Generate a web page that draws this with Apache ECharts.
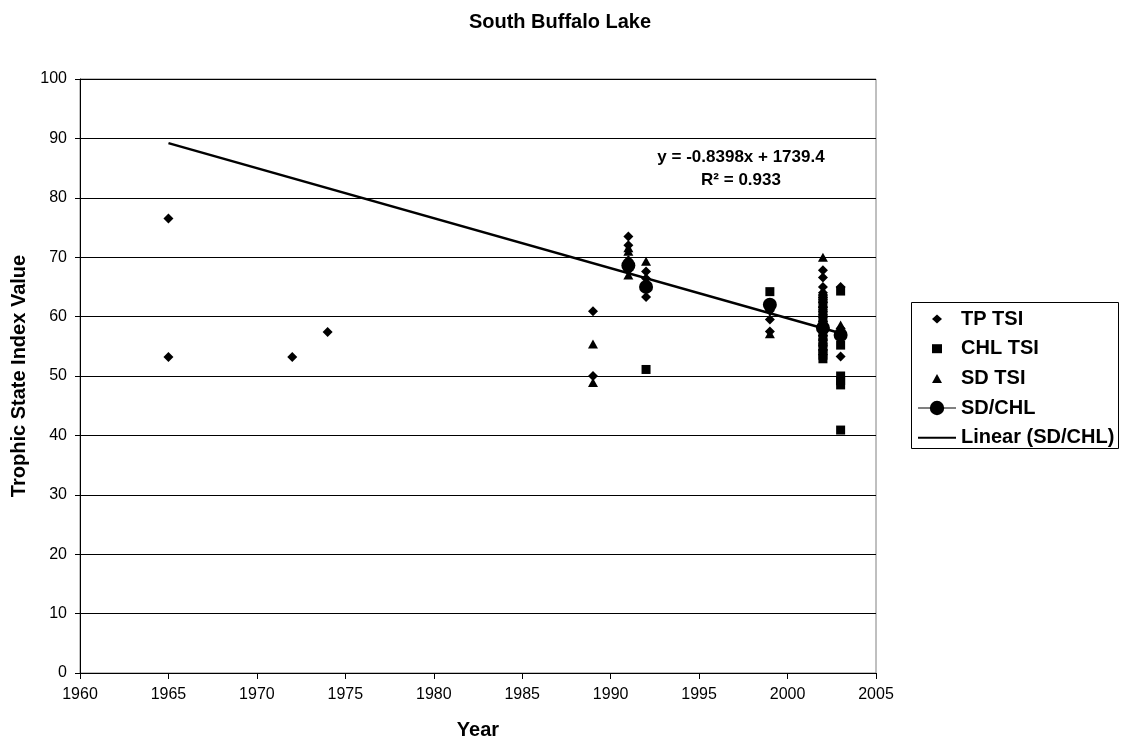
<!DOCTYPE html>
<html>
<head>
<meta charset="utf-8">
<script src="https://cdn.jsdelivr.net/npm/echarts@6/dist/echarts.min.js"></script>
<style>
html,body{margin:0;padding:0;background:#fff;}
#chart{width:1122px;height:740px;}
</style>
</head>
<body>
<div id="chart"></div>
<script>
// ---- data ----
const chartTitle = 'South Buffalo Lake';
const xTicks = [1960, 1965, 1970, 1975, 1980, 1985, 1990, 1995, 2000, 2005];
const yTicks = [0, 10, 20, 30, 40, 50, 60, 70, 80, 90, 100];

const tpTSI = [
  [1965, 76.5], [1965, 53.2], [1972, 53.2], [1974, 57.4],
  [1989, 60.9], [1989, 50.0],
  [1991, 73.5], [1991, 72.0], [1991, 69.5], [1991, 67.8],
  [1992, 67.6], [1992, 66.4], [1992, 63.3],
  [1999, 61.0], [1999, 59.5], [1999, 57.5],
  [2002, 67.8], [2002, 66.6], [2002, 65.0], [2002, 64.0], [2002, 63.2], [2002, 62.4],
  [2002, 61.6], [2002, 60.8], [2002, 60.0], [2002, 59.2], [2002, 58.4], [2002, 57.6],
  [2002, 56.8], [2002, 56.0], [2002, 55.2], [2002, 54.4], [2002, 53.6],
  [2003, 65.0], [2003, 58.0], [2003, 53.3]
];
const chlTSI = [
  [1992, 51.1], [1999, 64.2],
  [2002, 63.0], [2002, 61.8], [2002, 60.5], [2002, 59.3], [2002, 58.0], [2002, 56.8],
  [2002, 55.6], [2002, 54.5], [2002, 53.5], [2002, 52.9],
  [2003, 64.3], [2003, 55.2], [2003, 50.0], [2003, 49.2], [2003, 48.5], [2003, 40.9]
];
const sdTSI = [
  [1989, 55.4], [1989, 48.9],
  [1991, 71.6], [1991, 71.0], [1991, 67.0],
  [1992, 69.3], [1999, 57.1],
  [2002, 70.0], [2002, 64.3], [2002, 63.5], [2002, 62.2], [2002, 61.0], [2002, 59.8],
  [2002, 58.6], [2002, 57.4], [2002, 56.2], [2002, 55.0],
  [2003, 58.6], [2003, 57.8]
];
const sdChl = [[1991, 68.6], [1992, 65.0], [1999, 62.0], [2002, 58.1], [2003, 56.9]];
const trendLine = [[1965, 89.2], [2003, 57.2]];
const equationText = ['y = -0.8398x + 1739.4', 'R² = 0.933'];
const seriesNames = ['TP TSI', 'CHL TSI', 'SD TSI', 'SD/CHL', 'Linear (SD/CHL)'];

const FONT = 'Arial, "Liberation Sans", sans-serif';
const chart = echarts.init(document.getElementById('chart'), null, {renderer: 'canvas'});

const legendText = {fontFamily: FONT, fontWeight: 'bold', fontSize: 20, color: '#000', lineHeight: 20};

const option = {
  backgroundColor: '#ffffff',
  animation: false,
  title: {
    text: chartTitle,
    left: 555, textAlign: 'center', top: 7,
    textStyle: {fontFamily: FONT, fontWeight: 'bold', fontSize: 20, color: '#000'}
  },
  grid: {
    left: 80, right: 246, top: 79, bottom: 67,
    containLabel: false, outerBoundsMode: 'none',
    show: true, borderColor: '#808080', borderWidth: 1, backgroundColor: 'transparent'
  },
  legend: [
    {
      orient: 'vertical',
      left: 932, top: 309,
      padding: 0,
      itemGap: 9.7,
      itemWidth: 10, itemHeight: 9,
      textStyle: Object.assign({padding: [0, 0, 0, 14]}, legendText),
      data: [seriesNames[0], seriesNames[1], seriesNames[2]]
    },
    {
      orient: 'vertical',
      left: 917, top: 398,
      padding: 0,
      itemGap: 9.7,
      itemWidth: 38, itemHeight: 18,
      textStyle: legendText,
      data: [
        {name: seriesNames[3], lineStyle: {width: 1, color: '#000', opacity: 1}},
        {name: seriesNames[4], itemStyle: {opacity: 0}}
      ]
    }
  ],
  xAxis: {
    type: 'value', min: 1960, max: 2005, interval: 5,
    name: 'Year', nameLocation: 'middle', nameGap: 47,
    nameTextStyle: {fontFamily: FONT, fontWeight: 'bold', fontSize: 20, color: '#000'},
    axisLine: {show: true, onZero: false, lineStyle: {color: '#000', width: 1}},
    axisTick: {show: true, inside: false, length: 6, lineStyle: {color: '#000'}},
    axisLabel: {fontFamily: FONT, fontSize: 16, color: '#000', margin: 14,
      formatter: v => xTicks.includes(v) ? String(v) : ''},
    splitLine: {show: false}
  },
  yAxis: {
    type: 'value', min: 0, max: 100, interval: 10,
    name: 'Trophic State Index Value', nameLocation: 'middle', nameGap: 50, nameRotate: 90,
    nameTextStyle: {fontFamily: FONT, fontWeight: 'bold', fontSize: 20, color: '#000'},
    axisLine: {show: true, onZero: false, lineStyle: {color: '#000', width: 1}},
    axisTick: {show: true, inside: false, length: 5, lineStyle: {color: '#000'}},
    axisLabel: {fontFamily: FONT, fontSize: 16, color: '#000', margin: 13,
      formatter: v => yTicks.includes(v) ? String(v) : ''},
    splitLine: {show: true, lineStyle: {color: '#000', width: 1}}
  },
  series: [
    {
      name: seriesNames[0], type: 'scatter', data: tpTSI,
      symbol: 'diamond', symbolSize: [10, 10],
      itemStyle: {color: '#000', opacity: 1}, z: 3
    },
    {
      name: seriesNames[1], type: 'scatter', data: chlTSI,
      symbol: 'rect', symbolSize: 9,
      itemStyle: {color: '#000', opacity: 1}, z: 3
    },
    {
      name: seriesNames[2], type: 'scatter', data: sdTSI,
      symbol: 'triangle', symbolSize: [10, 9],
      itemStyle: {color: '#000', opacity: 1}, z: 3
    },
    {
      name: seriesNames[3], type: 'line', data: sdChl,
      symbol: 'circle', symbolSize: 14, showSymbol: true,
      lineStyle: {width: 0, opacity: 0},
      itemStyle: {color: '#000', opacity: 1}, z: 4
    },
    {
      name: seriesNames[4], type: 'line', data: trendLine,
      symbol: 'none', showSymbol: false,
      lineStyle: {color: '#000', width: 2.5},
      itemStyle: {color: '#000'}, z: 5
    }
  ],
  graphic: [
    {type: 'rect', z: 1, silent: true,
      shape: {x: 911.5, y: 302.5, width: 207, height: 146},
      style: {fill: '#fff', stroke: '#000', lineWidth: 1}},
    {type: 'text', z: 10, silent: true, x: 741, y: 157,
      style: {text: equationText[0], fill: '#000', align: 'center', verticalAlign: 'middle',
        font: 'bold 17px ' + FONT}},
    {type: 'text', z: 10, silent: true, x: 741, y: 180,
      style: {text: equationText[1], fill: '#000', align: 'center', verticalAlign: 'middle',
        font: 'bold 17px ' + FONT}}
  ]
};
chart.setOption(option);
</script>
</body>
</html>
